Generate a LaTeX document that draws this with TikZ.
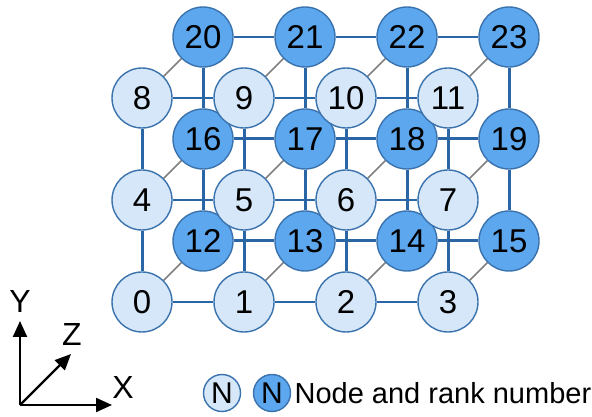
\documentclass[tikz,border=0pt]{standalone}
\usepackage{fontspec}
\setmainfont{Liberation Sans}
\usetikzlibrary{arrows.meta,positioning}
\definecolor{meshline}{HTML}{2A65A5}
\definecolor{meshrim}{HTML}{3A72AD}
\definecolor{frontfill}{HTML}{D5E7F9}
\definecolor{backfill}{HTML}{5DA7EE}
\definecolor{depthgrey}{HTML}{808080}

\begin{document}
\begin{tikzpicture}[
    x=0.5pt, y=0.5pt,
    frontnode/.style={circle, draw=meshrim, line width=0.7pt, fill=frontfill, text=black,
                      font=\fontsize{16.5}{19}\selectfont, minimum size=30pt, inner sep=0pt},
    backnode/.style={frontnode, fill=backfill},
    legnode/.style={frontnode, minimum size=18.5pt, font=\fontsize{15}{17}\selectfont},
    hlink/.style={meshline, line width=1pt},
    vlink/.style={meshline, line width=1.5pt},
    toplink/.style={meshline, line width=0.85pt},
    zlink/.style={depthgrey, line width=0.8pt},
    axis/.style={-{Triangle[length=8pt, width=7pt]}, black, line width=1.1pt},
    axislabel/.style={font=\fontsize{16}{18}\selectfont, inner sep=0pt}
  ]
  \useasboundingbox (0,0) rectangle (592,416);

  % back layer (z = 1)
  \node[backnode] (b12) at (203,175) {12};
  \node[backnode] (b13) at (305,175) {13};
  \node[backnode] (b14) at (407,175) {14};
  \node[backnode] (b15) at (509,175) {15};
  \node[backnode] (b16) at (203,277) {16};
  \node[backnode] (b17) at (305,277) {17};
  \node[backnode] (b18) at (407,277) {18};
  \node[backnode] (b19) at (509,277) {19};
  \node[backnode] (b20) at (203,379) {20};
  \node[backnode] (b21) at (305,379) {21};
  \node[backnode] (b22) at (407,379) {22};
  \node[backnode] (b23) at (509,379) {23};

  \draw[vlink] (b12) -- (b13) -- (b14) -- (b15);
  \draw[vlink] (b16) -- (b17) -- (b18) -- (b19);
  \draw[toplink] (b20) -- (b21) -- (b22) -- (b23);
  \draw[vlink] (b12) -- (b16) -- (b20);
  \draw[vlink] (b13) -- (b17) -- (b21);
  \draw[vlink] (b14) -- (b18) -- (b22);
  \draw[vlink] (b15) -- (b19) -- (b23);

  % front layer (z = 0)
  \node[frontnode] (f0) at (142,114) {0};
  \node[frontnode] (f1) at (244,114) {1};
  \node[frontnode] (f2) at (346,114) {2};
  \node[frontnode] (f3) at (448,114) {3};
  \node[frontnode] (f4) at (142,216) {4};
  \node[frontnode] (f5) at (244,216) {5};
  \node[frontnode] (f6) at (346,216) {6};
  \node[frontnode] (f7) at (448,216) {7};
  \node[frontnode] (f8) at (142,318) {8};
  \node[frontnode] (f9) at (244,318) {9};
  \node[frontnode] (f10) at (346,318) {10};
  \node[frontnode] (f11) at (448,318) {11};

  \draw[hlink] (f0) -- (f1) -- (f2) -- (f3);
  \draw[hlink] (f4) -- (f5) -- (f6) -- (f7);
  \draw[hlink] (f8) -- (f9) -- (f10) -- (f11);
  \draw[vlink] (f0) -- (f4) -- (f8);
  \draw[vlink] (f1) -- (f5) -- (f9);
  \draw[vlink] (f2) -- (f6) -- (f10);
  \draw[vlink] (f3) -- (f7) -- (f11);

  % depth links
  \draw[zlink] (f0) -- (b12);
  \draw[zlink] (f1) -- (b13);
  \draw[zlink] (f2) -- (b14);
  \draw[zlink] (f3) -- (b15);
  \draw[zlink] (f4) -- (b16);
  \draw[zlink] (f5) -- (b17);
  \draw[zlink] (f6) -- (b18);
  \draw[zlink] (f7) -- (b19);
  \draw[zlink] (f8) -- (b20);
  \draw[zlink] (f9) -- (b21);
  \draw[zlink] (f10) -- (b22);
  \draw[zlink] (f11) -- (b23);

  % axes
  \coordinate (origin) at (20,11);
  \coordinate (xtip) at (112,11);
  \coordinate (ytip) at (20,95);
  \coordinate (ztip) at (71,62);
  \draw[axis] (origin) -- (xtip);
  \draw[axis] (origin) -- (ytip);
  \draw[axis] (origin) -- (ztip);
  \node[axislabel] (xlabel) at (123,29) {X};
  \node[axislabel] (ylabel) at (20,115) {Y};
  \node[axislabel] (zlabel) at (72,82) {Z};

  % legend
  \node[legnode] (legfront) at (222,23) {N};
  \node[legnode, fill=backfill] (legback) at (272,23) {N};
  \node[font=\fontsize{14.5}{17}\selectfont, inner sep=0pt, right=1.5pt of legback] (legtext) {Node and rank number};
\end{tikzpicture}
\end{document}
